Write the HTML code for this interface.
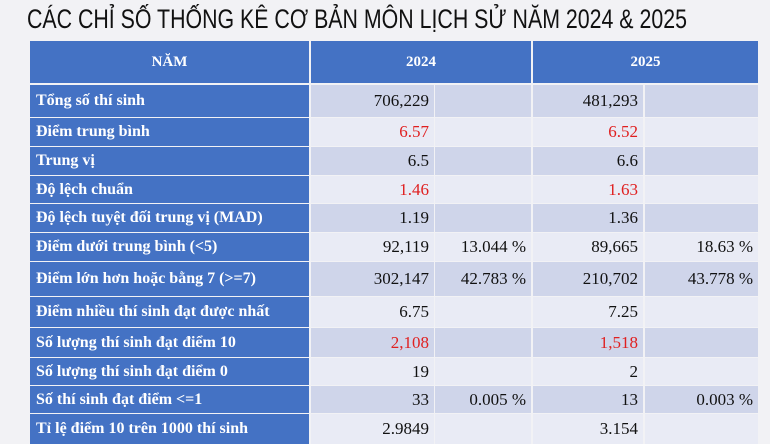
<!DOCTYPE html>
<html><head><meta charset="utf-8"><style>
body{margin:0;width:770px;height:442px;overflow:hidden;background:#f2f2f5;position:relative;font-family:"Liberation Serif",serif}
.t{position:absolute;left:27px;top:4px;font-family:"Liberation Sans",sans-serif;font-size:27px;color:#111;white-space:nowrap;transform-origin:0 0}
.c{position:absolute;box-sizing:border-box;display:flex;align-items:center;font-size:17px;white-space:nowrap}
.h{background:#4472c4;color:#fff;font-weight:bold;justify-content:center;font-size:15px}
.l{background:#4472c4;color:#fff;font-weight:bold;padding-left:6px;font-size:16px}
.v{justify-content:flex-end;padding-right:5px;color:#111}
.a{background:#cfd5ea}.b{background:#e9ebf5}
.r{color:#e02020}
</style></head><body>
<div class="t" id="tt">CÁC CHỈ SỐ THỐNG KÊ CƠ BẢN MÔN LỊCH SỬ NĂM 2024 &amp; 2025</div>
<div class="c h" style="left:30px;top:41px;width:279px;height:42px">NĂM</div>
<div class="c h" style="left:311px;top:41px;width:220px;height:42px">2024</div>
<div class="c h" style="left:533px;top:41px;width:225px;height:42px">2025</div>
<div id="rows"></div>
<script>
var tt=document.getElementById("tt");tt.style.transform="scaleX("+(660/tt.offsetWidth)+")";
var rows=[
["Tổng số thí sinh","706,229","","481,293","",85,32],
["Điểm trung bình","r6.57","","r6.52","",118,28],
["Trung vị","6.5","","6.6","",147,28],
["Độ lệch chuẩn","r1.46","","r1.63","",176,27],
["Độ lệch tuyệt đối trung vị (MAD)","1.19","","1.36","",204,28],
["Điểm dưới trung bình (<5)","92,119","13.044 %","89,665","18.63 %",233,28],
["Điểm lớn hơn hoặc bằng 7 (>=7)","302,147","42.783 %","210,702","43.778 %",262,34],
["Điểm nhiều thí sinh đạt được nhất","6.75","","7.25","",297,30],
["Số lượng thí sinh đạt điểm 10","r2,108","","r1,518","",328,29],
["Số lượng thí sinh đạt điểm 0","19","","2","",358,27],
["Số thí sinh đạt điểm <=1","33","0.005 %","13","0.003 %",386,27],
["Tỉ lệ điểm 10 trên 1000 thí sinh","2.9849","","3.154","",414,30]];
var cols=[[311,123],[435,96],[533,110],[645,113]];
var h="";
rows.forEach(function(r,i){
 var cls=i%2==0?"a":"b";
 h+='<div class="c l" style="left:30px;top:'+r[5]+'px;width:279px;height:'+r[6]+'px">'+r[0].replace(/</g,"&lt;").replace(/>/g,"&gt;")+'</div>';
 for(var j=0;j<4;j++){var t=r[j+1],red=false;if(t[0]=="r"){red=true;t=t.slice(1);}
 h+='<div class="c v '+cls+(red?' r':'')+'" style="left:'+cols[j][0]+'px;top:'+r[5]+'px;width:'+cols[j][1]+'px;height:'+r[6]+'px">'+t+'</div>';}
});
document.getElementById("rows").innerHTML=h;
</script>
</body></html>
